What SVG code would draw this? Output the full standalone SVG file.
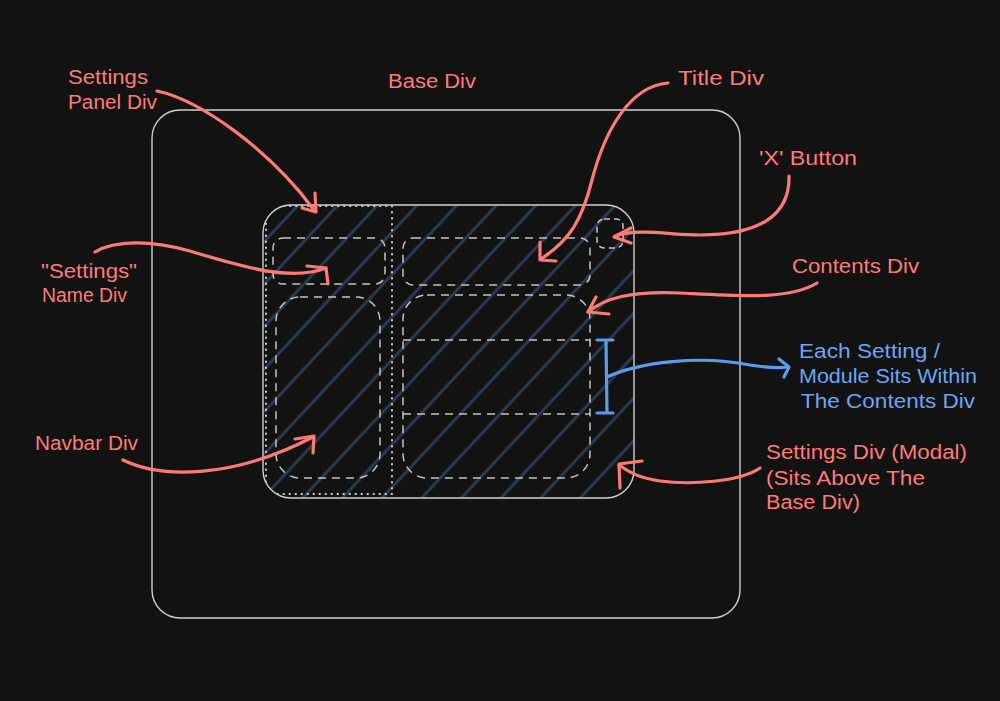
<svg xmlns="http://www.w3.org/2000/svg" width="1000" height="701" viewBox="0 0 1000 701">
<style>
.bg{fill:#121212}
.box{fill:none;stroke:#cfcfcf;stroke-width:1.4}
.dash{fill:none;stroke:#c4c4c4;stroke-width:1.5;stroke-dasharray:8 6}
.dot{fill:none;stroke:#cccccc;stroke-width:2;stroke-dasharray:0.5 5.5;stroke-linecap:round}
.red{fill:none;stroke:#ff7b72;stroke-width:3.2;stroke-linecap:round;stroke-linejoin:round}
.blue{fill:none;stroke:#5b9bf0;stroke-width:3.2;stroke-linecap:round;stroke-linejoin:round}
.lbl{font-family:"Liberation Sans",Arial,sans-serif;font-size:20px;fill:#ff7b72}
.lblb{font-family:"Liberation Sans",Arial,sans-serif;font-size:20px;fill:#6aa6f8}
</style>
<defs>
<pattern id="hatch" patternUnits="userSpaceOnUse" width="29" height="29" patternTransform="rotate(43)">
<line x1="10" y1="-2" x2="10" y2="31" stroke="#2c3d52" stroke-width="2.8"/>
</pattern>
<clipPath id="modalClip"><rect x="263" y="205" width="371" height="293" rx="28"/></clipPath>
</defs>
<rect class="bg" x="0" y="0" width="1000" height="701"/>

<g id="base-div">
<rect class="box" x="152" y="110" width="588" height="508" rx="28"/>
</g>

<g id="settings-modal">
<rect x="263" y="205" width="371" height="293" rx="28" fill="url(#hatch)"/>
<rect class="box" x="263" y="205" width="371" height="293" rx="28"/>
</g>

<g id="settings-panel" clip-path="url(#modalClip)">
<rect class="dot" x="266" y="206" width="126" height="288"/>
</g>

<g id="name-div">
<rect class="dash" x="273" y="238" width="112" height="46" rx="10"/>
</g>
<g id="navbar-div">
<rect class="dash" x="276" y="297" width="104" height="181" rx="24"/>
</g>
<g id="title-div">
<rect class="dash" x="403" y="238" width="187" height="47" rx="10"/>
</g>
<g id="x-button">
<rect class="dash" x="597" y="219" width="26" height="29" rx="7" style="stroke-dasharray:6 4"/>
</g>
<g id="contents-div">
<rect class="dash" x="403" y="295" width="187" height="183" rx="24"/>
<line class="dash" x1="403" y1="340" x2="590" y2="340"/>
<line class="dash" x1="403" y1="414" x2="590" y2="414"/>
</g>

<g id="connectors">
<path class="red" d="M157 91 C200 100,270 150,314 210"/>
<path class="red" d="M315 193 L316 212 L302 208"/>
<path class="red" d="M95 252 C115 240,150 240,190 251 C240 266,290 282,326 268"/>
<path class="red" d="M307 266 L326 268 L328 284"/>
<path class="red" d="M123 460 C160 478,230 480,313 437"/>
<path class="red" d="M295 439 L314 436 L313 453"/>
<path class="red" d="M668 83 C630 86,605 130,592 180 C582 220,570 240,541 259"/>
<path class="red" d="M540 242 L540 260 L556 261"/>
<path class="red" d="M789 176 C790 215,760 235,700 235 C670 235,640 228,615 236"/>
<path class="red" d="M631 228 L614 237 L631 243"/>
<path class="red" d="M817 283 C790 300,740 296,680 293 C630 291,605 298,588 312"/>
<path class="red" d="M596 297 L588 312 L609 314"/>
<path class="red" d="M760 468 C740 482,690 485,660 481 C640 478,630 473,619 465"/>
<path class="red" d="M642 461 L619 464 L620 488"/>
<path class="blue" d="M606 341 L607 413 M597 340 L613 340 M597 413 L613 413"/>
<path class="blue" d="M607 377 C640 362,700 355,750 365 C770 368,780 368,788 367"/>
<path class="blue" d="M779 359 L789 367 L784 377"/>
</g>

<g id="labels">
<text class="lbl" x="68" y="84" textLength="80" lengthAdjust="spacingAndGlyphs">Settings</text>
<text class="lbl" x="68" y="109" textLength="89" lengthAdjust="spacingAndGlyphs">Panel Div</text>
<text class="lbl" x="388" y="88" textLength="88" lengthAdjust="spacingAndGlyphs">Base Div</text>
<text class="lbl" x="678" y="85" textLength="86" lengthAdjust="spacingAndGlyphs">Title Div</text>
<text class="lbl" x="759" y="165" textLength="98" lengthAdjust="spacingAndGlyphs">'X' Button</text>
<text class="lbl" x="792" y="273" textLength="127" lengthAdjust="spacingAndGlyphs">Contents Div</text>
<text class="lbl" x="41" y="278" textLength="96" lengthAdjust="spacingAndGlyphs">"Settings"</text>
<text class="lbl" x="42" y="302" textLength="85" lengthAdjust="spacingAndGlyphs">Name Div</text>
<text class="lbl" x="35" y="450" textLength="103" lengthAdjust="spacingAndGlyphs">Navbar Div</text>
<text class="lblb" x="799" y="358" textLength="141" lengthAdjust="spacingAndGlyphs">Each Setting /</text>
<text class="lblb" x="799" y="383" textLength="178" lengthAdjust="spacingAndGlyphs">Module Sits Within</text>
<text class="lblb" x="801" y="408" textLength="174" lengthAdjust="spacingAndGlyphs">The Contents Div</text>
<text class="lbl" x="766" y="459" textLength="201" lengthAdjust="spacingAndGlyphs">Settings Div (Modal)</text>
<text class="lbl" x="766" y="485" textLength="159" lengthAdjust="spacingAndGlyphs">(Sits Above The</text>
<text class="lbl" x="766" y="509" textLength="94" lengthAdjust="spacingAndGlyphs">Base Div)</text>
</g>
</svg>
